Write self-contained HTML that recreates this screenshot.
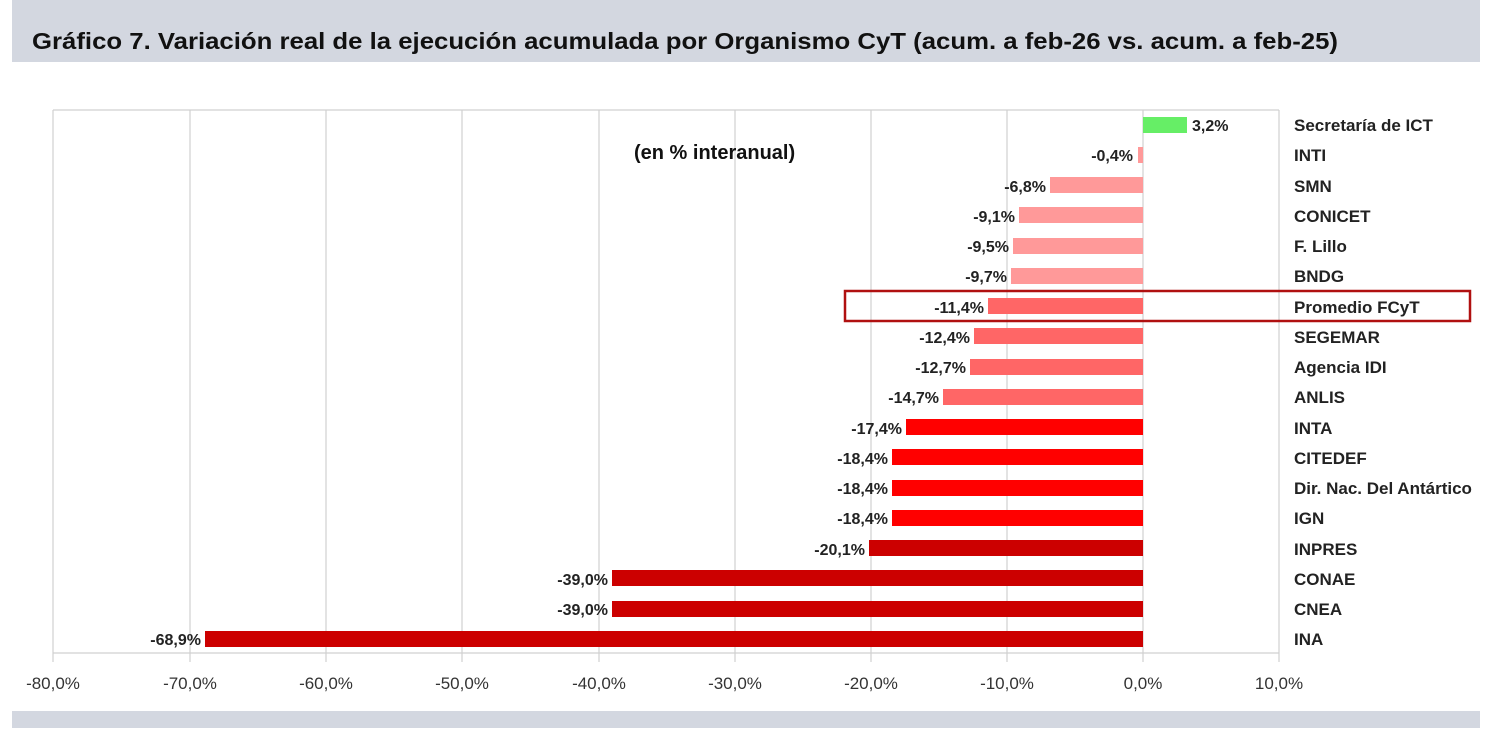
<!DOCTYPE html><html><head><meta charset="utf-8"><style>body{margin:0;width:1500px;height:728px;background:#fff;overflow:hidden}</style></head><body>
<svg width="1500" height="728" xmlns="http://www.w3.org/2000/svg" font-family="Liberation Sans, Arial, sans-serif">
<rect x="12" y="0" width="1468" height="62" fill="#d3d7e0"/>
<rect x="12" y="711" width="1468" height="17" fill="#d3d7e0"/>
<text x="32" y="49" font-size="23" font-weight="bold" fill="#111" textLength="1306" lengthAdjust="spacingAndGlyphs">Gráfico 7. Variación real de la ejecución acumulada por Organismo CyT (acum. a feb-26 vs. acum. a feb-25)</text>
<g stroke="#d0d0d0" stroke-width="1.2">
<line x1="53" y1="110" x2="1279" y2="110"/>
<line x1="53" y1="110" x2="53" y2="662"/><line x1="190" y1="110" x2="190" y2="662"/><line x1="326" y1="110" x2="326" y2="662"/><line x1="462" y1="110" x2="462" y2="662"/><line x1="599" y1="110" x2="599" y2="662"/><line x1="735" y1="110" x2="735" y2="662"/><line x1="871" y1="110" x2="871" y2="662"/><line x1="1007" y1="110" x2="1007" y2="662"/><line x1="1143" y1="110" x2="1143" y2="662"/><line x1="1279" y1="110" x2="1279" y2="662"/>
<line x1="53" y1="653" x2="1279" y2="653"/>
</g>
<g font-size="17" fill="#333" text-anchor="middle">
<text x="53" y="689">-80,0%</text><text x="190" y="689">-70,0%</text><text x="326" y="689">-60,0%</text><text x="462" y="689">-50,0%</text><text x="599" y="689">-40,0%</text><text x="735" y="689">-30,0%</text><text x="871" y="689">-20,0%</text><text x="1007" y="689">-10,0%</text><text x="1143" y="689">0,0%</text><text x="1279" y="689">10,0%</text>
</g>
<text x="634" y="159" font-size="20" font-weight="bold" fill="#111">(en % interanual)</text>
<g font-size="16" font-weight="bold" fill="#222">
<rect x="1143" y="117" width="44" height="16" fill="#66ee66"/><text x="1192" y="131">3,2%</text>
<rect x="1138" y="147" width="5" height="16" fill="#ff9999"/><text x="1133" y="161" text-anchor="end">-0,4%</text>
<rect x="1050" y="177" width="93" height="16" fill="#ff9999"/><text x="1046" y="192" text-anchor="end">-6,8%</text>
<rect x="1019" y="207" width="124" height="16" fill="#ff9999"/><text x="1015" y="222" text-anchor="end">-9,1%</text>
<rect x="1013" y="238" width="130" height="16" fill="#ff9999"/><text x="1009" y="252" text-anchor="end">-9,5%</text>
<rect x="1011" y="268" width="132" height="16" fill="#ff9999"/><text x="1007" y="282" text-anchor="end">-9,7%</text>
<rect x="988" y="298" width="155" height="16" fill="#ff6666"/><text x="984" y="313" text-anchor="end">-11,4%</text>
<rect x="974" y="328" width="169" height="16" fill="#ff6666"/><text x="970" y="343" text-anchor="end">-12,4%</text>
<rect x="970" y="359" width="173" height="16" fill="#ff6666"/><text x="966" y="373" text-anchor="end">-12,7%</text>
<rect x="943" y="389" width="200" height="16" fill="#ff6666"/><text x="939" y="403" text-anchor="end">-14,7%</text>
<rect x="906" y="419" width="237" height="16" fill="#ff0000"/><text x="902" y="434" text-anchor="end">-17,4%</text>
<rect x="892" y="449" width="251" height="16" fill="#ff0000"/><text x="888" y="464" text-anchor="end">-18,4%</text>
<rect x="892" y="480" width="251" height="16" fill="#ff0000"/><text x="888" y="494" text-anchor="end">-18,4%</text>
<rect x="892" y="510" width="251" height="16" fill="#ff0000"/><text x="888" y="524" text-anchor="end">-18,4%</text>
<rect x="869" y="540" width="274" height="16" fill="#cc0000"/><text x="865" y="555" text-anchor="end">-20,1%</text>
<rect x="612" y="570" width="531" height="16" fill="#cc0000"/><text x="608" y="585" text-anchor="end">-39,0%</text>
<rect x="612" y="601" width="531" height="16" fill="#cc0000"/><text x="608" y="615" text-anchor="end">-39,0%</text>
<rect x="205" y="631" width="938" height="16" fill="#cc0000"/><text x="201" y="645" text-anchor="end">-68,9%</text>
</g>
<g font-size="17" font-weight="bold" fill="#222">
<text x="1294" y="131">Secretaría de ICT</text><text x="1294" y="161">INTI</text><text x="1294" y="192">SMN</text><text x="1294" y="222">CONICET</text><text x="1294" y="252">F. Lillo</text><text x="1294" y="282">BNDG</text><text x="1294" y="313">Promedio FCyT</text><text x="1294" y="343">SEGEMAR</text><text x="1294" y="373">Agencia IDI</text><text x="1294" y="403">ANLIS</text><text x="1294" y="434">INTA</text><text x="1294" y="464">CITEDEF</text><text x="1294" y="494">Dir. Nac. Del Antártico</text><text x="1294" y="524">IGN</text><text x="1294" y="555">INPRES</text><text x="1294" y="585">CONAE</text><text x="1294" y="615">CNEA</text><text x="1294" y="645">INA</text>
</g>
<rect x="845" y="291" width="625" height="30" fill="none" stroke="#b01010" stroke-width="2.5"/>
</svg>
</body></html>
